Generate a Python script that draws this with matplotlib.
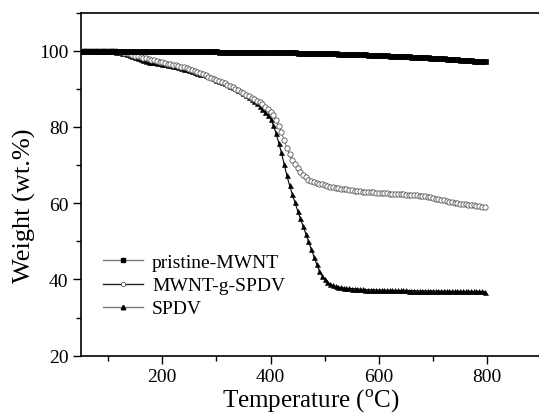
import matplotlib
matplotlib.use("Agg")
import matplotlib.pyplot as plt
from matplotlib.ticker import MultipleLocator

plt.rcParams['font.family'] = ['Liberation Serif', 'DejaVu Serif']
plt.rcParams['mathtext.fontset'] = 'custom'
plt.rcParams['mathtext.rm'] = 'Liberation Serif'

temperature = list(range(50, 800, 5))

pristine_mwnt = [
    100.0, 100.0, 100.0, 100.0, 100.0, 100.0, 100.0, 100.0, 100.0, 99.99,
    99.98, 99.98, 99.97, 99.97, 99.96, 99.96, 99.95, 99.95, 99.94, 99.94,
    99.93, 99.93, 99.92, 99.92, 99.91, 99.91, 99.9, 99.9, 99.89, 99.89,
    99.88, 99.88, 99.87, 99.87, 99.86, 99.86, 99.85, 99.85, 99.84, 99.84,
    99.83, 99.83, 99.82, 99.82, 99.81, 99.81, 99.8, 99.8, 99.79, 99.79,
    99.78, 99.77, 99.77, 99.76, 99.76, 99.75, 99.74, 99.74, 99.73, 99.73,
    99.72, 99.71, 99.71, 99.7, 99.69, 99.68, 99.68, 99.67, 99.66, 99.65,
    99.64, 99.63, 99.62, 99.61, 99.6, 99.58, 99.57, 99.56, 99.54, 99.53,
    99.51, 99.5, 99.48, 99.47, 99.45, 99.43, 99.42, 99.4, 99.38, 99.36,
    99.34, 99.32, 99.3, 99.28, 99.26, 99.24, 99.21, 99.19, 99.17, 99.14,
    99.12, 99.09, 99.07, 99.04, 99.01, 98.99, 98.96, 98.93, 98.9, 98.87,
    98.84, 98.81, 98.78, 98.75, 98.72, 98.68, 98.65, 98.62, 98.58, 98.55,
    98.51, 98.48, 98.44, 98.4, 98.36, 98.32, 98.28, 98.24, 98.2, 98.16,
    98.12, 98.08, 98.03, 97.99, 97.94, 97.9, 97.85, 97.81, 97.76, 97.71,
    97.66, 97.61, 97.56, 97.51, 97.46, 97.41, 97.36, 97.3, 97.25, 97.2,
]

mwnt_g_spdv = [
    100.0, 100.0, 100.0, 100.0, 100.0, 100.0, 100.0, 99.98, 99.95, 99.93,
    99.9, 99.87, 99.85, 99.8, 99.75, 99.6, 99.5, 99.3, 99.1, 98.9,
    98.7, 98.5, 98.3, 98.15, 98.0, 97.8, 97.6, 97.45, 97.3, 97.15,
    97.0, 96.8, 96.6, 96.45, 96.3, 96.15, 96.0, 95.8, 95.6, 95.35,
    95.1, 94.85, 94.6, 94.35, 94.1, 93.8, 93.5, 93.2, 92.9, 92.6,
    92.3, 92.0, 91.7, 91.4, 91.1, 90.75, 90.4, 90.0, 89.6, 89.2,
    88.8, 88.4, 88.0, 87.6, 87.2, 86.8, 86.4, 85.9, 85.3, 84.7,
    84.0, 83.0, 81.8, 80.3, 78.6, 76.6, 74.5, 72.8, 71.4, 70.2,
    69.2, 68.3, 67.5, 66.8, 66.2, 65.8, 65.5, 65.3, 65.1, 64.9,
    64.7, 64.5, 64.35, 64.2, 64.05, 63.9, 63.8, 63.7, 63.6, 63.5,
    63.4, 63.3, 63.2, 63.1, 63.0, 62.95, 62.9, 62.85, 62.8, 62.75,
    62.7, 62.65, 62.6, 62.55, 62.5, 62.45, 62.4, 62.35, 62.3, 62.3,
    62.25, 62.2, 62.15, 62.1, 62.05, 62.0, 61.9, 61.8, 61.7, 61.5,
    61.3, 61.15, 61.0, 60.85, 60.7, 60.55, 60.4, 60.25, 60.1, 60.0,
    59.9, 59.8, 59.7, 59.6, 59.5, 59.4, 59.3, 59.2, 59.1, 59.0,
]

spdv = [
    100.0, 100.0, 100.0, 100.0, 100.0, 100.0, 100.0, 99.98, 99.95, 99.93,
    99.9, 99.85, 99.8, 99.7, 99.6, 99.45, 99.3, 99.05, 98.8, 98.5,
    98.2, 97.95, 97.7, 97.5, 97.3, 97.15, 97.0, 96.9, 96.8, 96.65,
    96.5, 96.4, 96.3, 96.15, 96.0, 95.85, 95.7, 95.5, 95.3, 95.1,
    94.9, 94.7, 94.5, 94.25, 94.0, 93.75, 93.5, 93.25, 93.0, 92.7,
    92.4, 92.1, 91.8, 91.5, 91.2, 90.85, 90.5, 90.1, 89.7, 89.3,
    88.9, 88.4, 87.9, 87.35, 86.8, 86.15, 85.5, 84.7, 83.9, 83.1,
    82.2, 80.5, 78.4, 75.9, 73.3, 70.2, 67.3, 64.7, 62.4, 60.2,
    58.0, 56.0, 54.0, 52.0, 50.0, 48.0, 46.0, 44.1, 42.3, 41.0,
    40.0, 39.3, 38.8, 38.5, 38.2, 38.0, 37.9, 37.8, 37.7, 37.65,
    37.6, 37.55, 37.5, 37.45, 37.4, 37.35, 37.3, 37.3, 37.3, 37.25,
    37.2, 37.2, 37.2, 37.15, 37.15, 37.15, 37.1, 37.1, 37.1, 37.1,
    37.1, 37.05, 37.05, 37.05, 37.0, 37.0, 37.0, 37.0, 37.0, 37.0,
    37.0, 36.95, 36.95, 36.95, 36.95, 36.95, 36.9, 36.9, 36.9, 36.9,
    36.9, 36.9, 36.9, 36.9, 36.85, 36.85, 36.85, 36.85, 36.85, 36.8,
]

series_labels = ['pristine-MWNT', 'MWNT-g-SPDV', 'SPDV']

fig = plt.figure(figsize=(5.39, 4.14), dpi=100)
ax = fig.add_axes([81 / 539, 1 - 356.7 / 414, 460.4 / 539, (356.7 - 13.5) / 414])

ax.plot(temperature, spdv, color='black', lw=0.8, marker='^',
        ms=3.6, mfc='black', mec='black', mew=0.4, zorder=3)
ax.plot(temperature, mwnt_g_spdv, color='#444444', lw=0.5, marker='o',
        ms=3.8, mfc='white', mec='#555555', mew=0.6, zorder=4)
ax.plot(temperature, pristine_mwnt, color='black', lw=1.0, marker='s',
        ms=3.6, mfc='black', mec='black', mew=0.5, zorder=5)

# legend proxies
h1, = ax.plot([], [], color='#777777', lw=1.0, marker='s', ms=3.0, mfc='black', mec='black')
h2, = ax.plot([], [], color='#222222', lw=1.0, marker='o', ms=3.2, mfc='white', mec='#555555', mew=0.6)
h3, = ax.plot([], [], color='#777777', lw=1.0, marker='^', ms=3.2, mfc='black', mec='black')
leg = ax.legend([h1, h2, h3], series_labels, loc='lower left',
                bbox_to_anchor=(0.031, 0.089), frameon=False, fontsize=14,
                handlelength=2.06, handletextpad=0.46, labelspacing=0.28,
                borderaxespad=0.0)

ax.set_xlim(50, 900)
ax.set_ylim(20, 110)
ax.xaxis.set_major_locator(MultipleLocator(200))
ax.xaxis.set_minor_locator(MultipleLocator(100))
ax.yaxis.set_major_locator(MultipleLocator(20))
ax.yaxis.set_minor_locator(MultipleLocator(10))

ax.spines['right'].set_visible(False)
for s in ['left', 'bottom', 'top']:
    ax.spines[s].set_linewidth(1.2)

ax.tick_params(which='major', direction='out', length=6, width=1.0,
               labelsize=14, top=False, right=False, pad=3)
ax.tick_params(which='minor', direction='out', length=3.5, width=1.0,
               top=False, right=False)

ax.set_xlabel(r'Temperature ($^{\rm o}$C)', fontsize=18, labelpad=1)
fig.text(24 / 539, 1 - 206 / 414, 'Weight (wt.%)', fontsize=19,
         rotation=90, ha='center', va='center')

fig.savefig('out.png', dpi=100)
